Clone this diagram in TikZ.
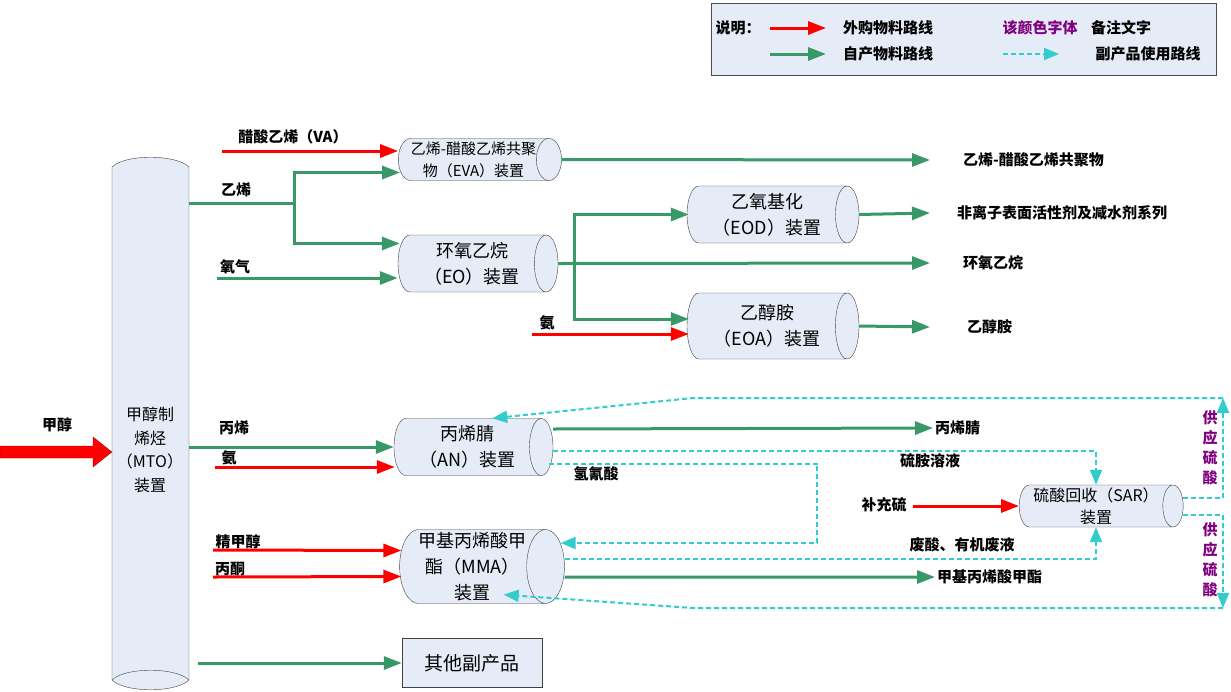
\documentclass[tikz,border=0pt]{standalone}
\usepackage{fontspec}
\setmainfont{Noto Sans CJK SC}
\usetikzlibrary{shapes.geometric,arrows.meta,calc}
\definecolor{ogreen}{RGB}{56,152,104}
\definecolor{ocyan}{RGB}{51,204,204}
\definecolor{unitfill}{RGB}{229,236,247}
\definecolor{notecol}{RGB}{128,0,128}
\tikzset{
  unit/.style={cylinder,draw=black!75,fill=unitfill,shape aspect=.55,inner sep=0pt,align=center,
    font=\fontsize{18}{26}\selectfont},
  buy/.style={draw=red,line width=3pt,-{Triangle[length=18pt,width=13pt]}},
  own/.style={draw=ogreen,line width=3pt,-{Triangle[length=18pt,width=13pt]}},
  byp/.style={draw=ocyan,line width=2pt,dash pattern=on 5pt off 3pt,-{Triangle[length=15pt,width=12pt]}},
  lab/.style={font=\bfseries\fontsize{15}{17}\selectfont,inner sep=0pt},
}
\begin{document}
\begin{tikzpicture}[x=1pt,y=-1pt]
\useasboundingbox (0,0) rectangle (1231,691);
% legend
\draw[draw=black!70,fill=unitfill] (711,3) rectangle (1216,75);
\node[lab] (shuoming) at (738,28) {说明：};
\coordinate (lg1) at (770,28); \coordinate (lg2) at (826,28);
\coordinate (lg3) at (770,54); \coordinate (lg4) at (826,54);
\coordinate (lg5) at (1003,54); \coordinate (lg6) at (1059,54);
\draw[buy] (lg1)--(lg2);
\draw[own] (lg3)--(lg4);
\draw[byp] (lg5)--(lg6);
\node[lab] (lbuy) at (888,28) {外购物料路线};
\node[lab] (lown) at (888,54) {自产物料路线};
\node[lab,text=notecol] (lnote) at (1040,28) {该颜色字体};
\node[lab] (lnote2) at (1121,28) {备注文字};
\node[lab] (lbyp) at (1148,54) {副产品使用路线};
% MTO
\draw[draw=black!75,fill=unitfill] (112,167) .. controls (125,154) and (176,154) .. (189,167)
  -- (189,680) .. controls (176,693) and (125,693) .. (112,680) -- cycle;
\draw[draw=black!75] (112,680) .. controls (125,667) and (176,667) .. (189,680);
\node[inner sep=0pt,minimum width=77pt,minimum height=531pt] (mto) at (150.5,422.5) {};
\node[font=\fontsize{16}{23.5}\selectfont,align=center,inner sep=0pt] (mtotxt) at (150,450) {甲醇制\\烯烃\\（MTO）\\装置};
\node[lab] (lmeoh) at (57,425) {甲醇};
\draw[draw=red!60!black,fill=red] (0,446)--(93,446)--(93,437)--(mto.west|-0,452)--(93,467)--(93,458)--(0,458)--cycle;
% units
\node[unit,shape aspect=.7,minimum height=163pt,minimum width=42pt,font=\fontsize{15}{22}\selectfont] (eva) at (473.5,159.5) {乙烯-醋酸乙烯共聚\\物（EVA）装置};
\node[unit,minimum height=160pt,minimum width=57pt] (eo) at (472,263.5) {环氧乙烷\\（EO）装置};
\node[unit,minimum height=172pt,minimum width=57pt] (eod) at (767,214.5) {乙氧基化\\（EOD）装置};
\node[unit,minimum height=172pt,minimum width=66pt] (eoa) at (767,326) {乙醇胺\\（EOA）装置};
\node[unit,minimum height=159pt,minimum width=57pt] (an) at (467.5,447) {丙烯腈\\（AN）装置};
\node[unit,minimum height=161pt,minimum width=74pt] (mma) at (472.5,566.5) {甲基丙烯酸甲\\酯（MMA）\\装置};
\node[unit,minimum height=164pt,minimum width=42pt,font=\fontsize{16}{22}\selectfont] (sar) at (1096,506) {硫酸回收（SAR）\\装置};
\node[draw=black!75,fill=unitfill,minimum width=140pt,minimum height=49pt,font=\fontsize{19}{22}\selectfont] (other) at (472,663) {其他副产品};
% labels
\node[lab] (lva) at (293,137) {醋酸乙烯（VA）};
\node[lab] (lc2) at (236,190) {乙烯};
\node[lab] (lo2) at (235,267) {氧气};
\node[lab] (lnh1) at (547,323) {氨};
\node[lab] (lc3) at (234,428) {丙烯};
\node[lab] (lnh2) at (229,458) {氨};
\node[lab] (lhcn) at (596,474) {氢氰酸};
\node[lab] (lams) at (930,461) {硫胺溶液};
\node[lab] (lsup) at (884,505) {补充硫};
\node[lab] (lwst) at (962,545) {废酸、有机废液};
\node[lab] (lme) at (238,542) {精甲醇};
\node[lab] (lacet) at (230,569) {丙酮};
\node[lab,anchor=west] (peva) at (963,160) {乙烯-醋酸乙烯共聚物};
\node[lab,anchor=west] (peod) at (957,213) {非离子表面活性剂及减水剂系列};
\node[lab,anchor=west] (peo) at (963,263) {环氧乙烷};
\node[lab,anchor=west] (peoa) at (967,327) {乙醇胺};
\node[lab,anchor=west] (pan) at (935,428) {丙烯腈};
\node[lab,anchor=west] (pmma) at (937,577) {甲基丙烯酸甲酯};
\node[lab,text=notecol,align=center,font=\bfseries\fontsize{15}{20}\selectfont] (gy1) at (1210,448) {供\\应\\硫\\酸};
\node[lab,text=notecol,align=center,font=\bfseries\fontsize{15}{20}\selectfont] (gy2) at (1210,560) {供\\应\\硫\\酸};
% ethylene units
\coordinate (va) at (222,151);
\coordinate (j1) at (294,203);
\coordinate (oxy) at (217,278);
\coordinate (j2) at (574,264);
\coordinate (nh1) at (532,334);
\draw[buy] (va)--(eva.west|-va);
\draw[ogreen,line width=3pt] (mto.east|-j1)--(j1);
\draw[own] (j1)|-($(eva.west)+(2,13)$);
\draw[own] (j1)|-($(eo.west)+(2,-20)$);
\draw[own] (oxy)--(eo.west|-oxy);
\draw[own] (eva.east)--($(peva.west)+(-33,0)$);
\draw[own] (eo.east)--($(peo.west)+(-33,0)$);
\draw[own] (j2)|-($(eod.west)+(2,0)$);
\draw[own] (j2)|-($(eoa.west)+(2,-7)$);
\draw[buy] (nh1)--($(eoa.west)+(2,8)$);
\draw[own] (eod.east)--($(peod.west)+(-27,0)$);
\draw[own] (eoa.east)--($(peoa.west)+(-37,0)$);
% AN and MMA
\coordinate (nh2) at (215,467);
\coordinate (me) at (213,550);
\coordinate (acet) at (213,577);
\coordinate (oth) at (198,663);
\draw[own] (mto.east|-an)--(an.west);
\draw[buy] (nh2)--($(an.west)+(1,20)$);
\draw[buy] (me)--($(mma.west)+(2,-16)$);
\draw[buy] (acet)--($(mma.west)+(2,10)$);
\draw[own] (oth)--(other.west);
\draw[own] ($(an.east)+(0,-18)$)--($(pan.west)+(-2,0)$);
\draw[own] ($(mma.east)+(0,10.5)$)--($(pmma.west)+(-2,0)$);
% SAR
\coordinate (sup) at (913,506);
\coordinate (hc) at (817,463);
\coordinate (t1) at (1223,398);
\coordinate (t2) at (693,398);
\coordinate (b1) at (1223,608);
\coordinate (b2) at (693,608);
\draw[buy] (sup)--(sar.west);
\draw[byp] ($(an.east)+(0,4)$)-|(sar.north);
\draw[byp] ($(an.east)+(-4,17)$)-|(hc)|-($(mma.east)+(-4,-23.5)$);
\draw[byp] ($(mma.east)+(0,-7.5)$)-|(sar.south);
\draw[byp] ($(sar.east)+(0,-8)$)-|(t1);
\draw[byp] (t1)--(t2)--($(an.north east)+(-4,0)$);
\draw[byp] ($(sar.east)+(0,9)$)-|(b1);
\draw[byp] (b1)--(b2)--($(mma.south east)+(-6,-9)$);
\end{tikzpicture}
\end{document}
